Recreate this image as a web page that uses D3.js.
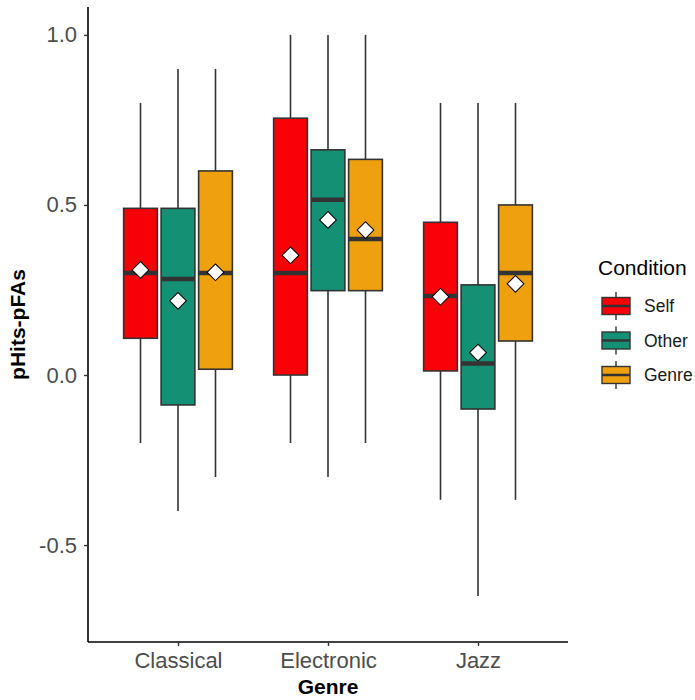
<!DOCTYPE html>
<html>
<head>
<meta charset="utf-8">
<script src="https://cdn.jsdelivr.net/npm/d3@7"></script>
<style>
  body { margin: 0; background: #fff; }
  text { font-family: "Liberation Sans", Arial, sans-serif; }
</style>
</head>
<body>
<div class="chart"></div>
<script>
// data
const genres = ["Classical", "Electronic", "Jazz"];
const conditions = ["Self", "Other", "Genre"];
const colors = ["#F90008", "#149174", "#EEA00F"];
const yTicks = [-0.5, 0.0, 0.5, 1.0];

// per genre, per condition: [lowerWhisker, q1, median, q3, upperWhisker]
const classicalStats = [[-0.2, 0.108, 0.3, 0.49, 0.8], [-0.4, -0.088, 0.282, 0.49, 0.9], [-0.3, 0.017, 0.3, 0.6, 0.9]];
const electronicStats = [[-0.2, 0.0, 0.3, 0.755, 1.0], [-0.3, 0.248, 0.515, 0.662, 1.0], [-0.2, 0.248, 0.4, 0.634, 1.0]];
const jazzStats = [[-0.367, 0.012, 0.232, 0.449, 0.8], [-0.65, -0.1, 0.034, 0.265, 0.8], [-0.367, 0.1, 0.3, 0.5, 0.8]];
const classicalMeans = [0.309, 0.218, 0.302];
const electronicMeans = [0.352, 0.456, 0.426];
const jazzMeans = [0.23, 0.066, 0.268];

const allStats = [classicalStats, electronicStats, jazzStats];
const allMeans = [classicalMeans, electronicMeans, jazzMeans];
const boxes = [];
genres.forEach((g, i) => conditions.forEach((c, j) => {
    const s = allStats[i][j];
    boxes.push({genre: g, cond: c, lo: s[0], q1: s[1], med: s[2], q3: s[3], hi: s[4], mean: allMeans[i][j]});
}));

const W = 695, H = 700;
const margin = ({top: 7, right: 127, bottom: 58, left: 88});
const width = W - margin.left - margin.right,
    height = H - margin.top - margin.bottom;

const svg = d3.select(".chart").append("svg")
    .attr("width", W)
    .attr("height", H)
    .append("g")
    .attr("transform", "translate(" + margin.left + "," + margin.top + ")");

// Scaling
const xScale = d3.scalePoint().domain(genres).range([0, width]).padding(0.6);
const dodge = d3.scaleBand().domain(conditions).range([-56.25, 56.25]);
const color = d3.scaleOrdinal().domain(conditions).range(colors);
const yScale = d3.scaleLinear().domain([-0.785, 1.082]).range([height, 0]);
const boxW = dodge.bandwidth() * 0.9;

// boxes
const g = svg.selectAll('.box')
    .data(boxes)
    .enter().append('g')
    .attr('class', 'box')
    .attr('transform', d => 'translate(' + (xScale(d.genre) + dodge(d.cond) + dodge.bandwidth() / 2) + ',0)');

g.append('line')
    .attr('y1', d => yScale(d.hi)).attr('y2', d => yScale(d.q3))
    .attr('stroke', '#333').attr('stroke-width', 1.6);
g.append('line')
    .attr('y1', d => yScale(d.q1)).attr('y2', d => yScale(d.lo))
    .attr('stroke', '#333').attr('stroke-width', 1.6);
g.append('rect')
    .attr('x', -boxW / 2)
    .attr('width', boxW)
    .attr('y', d => yScale(d.q3))
    .attr('height', d => yScale(d.q1) - yScale(d.q3))
    .attr('fill', d => color(d.cond))
    .attr('stroke', '#333').attr('stroke-width', 1.6);
g.append('line')
    .attr('x1', -boxW / 2).attr('x2', boxW / 2)
    .attr('y1', d => yScale(d.med)).attr('y2', d => yScale(d.med))
    .attr('stroke', '#333').attr('stroke-width', 4.5);
g.append('path')
    .attr('d', d3.symbol(d3.symbolSquare, 140))
    .attr('transform', d => 'translate(0,' + yScale(d.mean) + ') rotate(45)')
    .attr('fill', '#fff').attr('stroke', '#000').attr('stroke-width', 1);

// Axis
const yAxis = d3.axisLeft(yScale).tickValues(yTicks)
    .tickFormat(d => d3.format('.1f')(d).replace('\u2212', '-'))
    .tickSize(4).tickPadding(7);
const xAxis = d3.axisBottom(xScale).tickSize(4).tickPadding(6);

const ya = svg.append('g').attr('class', 'axis y-axis').call(yAxis);
const xa = svg.append('g').attr('class', 'axis x-axis')
    .attr('transform', 'translate(0,' + height + ')').call(xAxis);

[ya, xa].forEach(a => {
    a.select('.domain').attr('stroke', '#000').attr('stroke-width', 1.6);
    a.selectAll('.tick line').attr('stroke', '#333').attr('stroke-width', 1.4);
    a.selectAll('.tick text').attr('fill', '#4d4d4d').attr('font-size', 22);
});
ya.select('.domain').attr('d', 'M0,' + height + 'V0');
xa.select('.domain').attr('d', 'M0,0H' + width);
xa.selectAll('.tick text').attr('dy', '0.71em');

// Axis titles
svg.append('text')
    .attr('x', width / 2).attr('y', height + 52)
    .attr('text-anchor', 'middle')
    .attr('font-size', 21).attr('font-weight', 'bold')
    .text('Genre');
svg.append('text')
    .attr('transform', 'translate(' + (-63) + ',' + (height / 2) + ') rotate(-90)')
    .attr('text-anchor', 'middle')
    .attr('font-size', 21).attr('font-weight', 'bold')
    .text('pHits-pFAs');

// Legend
const legend = svg.append('g')
    .attr('transform', 'translate(' + (width + 30) + ',' + 255 + ')');
legend.append('text')
    .attr('x', 0).attr('y', 13)
    .attr('font-size', 21).attr('fill', '#000')
    .text('Condition');
const keys = legend.selectAll('.key')
    .data(conditions)
    .enter().append('g')
    .attr('class', 'key')
    .attr('transform', (d, i) => 'translate(0,' + (44 + i * 34.5) + ')');
keys.append('line')
    .attr('x1', 18).attr('x2', 18).attr('y1', -14).attr('y2', 14)
    .attr('stroke', '#333').attr('stroke-width', 1.4);
keys.append('rect')
    .attr('x', 4).attr('y', -8.5).attr('width', 28).attr('height', 17)
    .attr('fill', d => color(d))
    .attr('stroke', '#333').attr('stroke-width', 1.4);
keys.append('line')
    .attr('x1', 4).attr('x2', 32).attr('y1', 0).attr('y2', 0)
    .attr('stroke', '#333').attr('stroke-width', 2.5);
keys.append('text')
    .attr('x', 46).attr('y', 0).attr('dy', '0.35em')
    .attr('font-size', 17.5).attr('fill', '#1a1a1a')
    .text(d => d);
</script>
</body>
</html>
